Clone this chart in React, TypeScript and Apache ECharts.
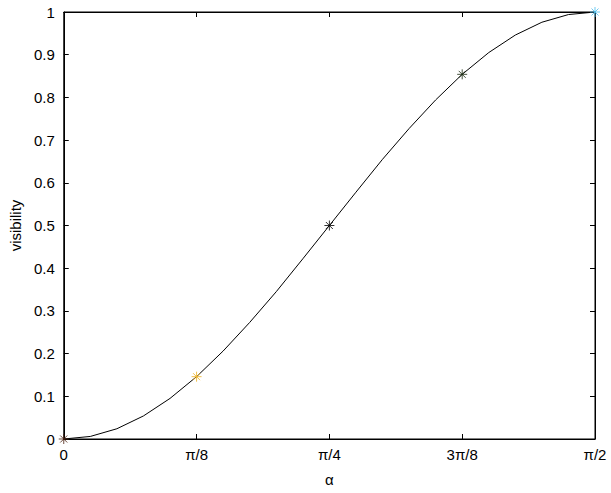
import React, { useEffect, useRef } from "react";
import * as echarts from "echarts";

// x positions in units of pi/8 (0..4), curve sampled every pi/40
const curveX = [0, 0.2, 0.4, 0.6, 0.8, 1.0, 1.2, 1.4, 1.6, 1.8, 2.0, 2.2, 2.4, 2.6, 2.8, 3.0, 3.2, 3.4, 3.6, 3.8, 4.0];
const curveY = [0, 0.006, 0.024, 0.054, 0.095, 0.146, 0.206, 0.273, 0.345, 0.422, 0.5, 0.578, 0.655, 0.727, 0.794, 0.854, 0.905, 0.946, 0.976, 0.994, 1.0];

const markerX = [0, 1, 2, 3, 4];
const markerY = [0, 0.146, 0.5, 0.854, 1.0];
const markerColors = ["#4a2010", "#EDB120", "#000000", "#1a2a10", "#4DBEEE"];

const xTickLabels = ["0", "π/8", "π/4", "3π/8", "π/2"];

const asterisk = "path://M5,0L5,10M0,5L10,5M1.5,1.5L8.5,8.5M1.5,8.5L8.5,1.5";

export default function App() {
  const ref = useRef<HTMLDivElement>(null);
  useEffect(() => {
    if (!ref.current) return;
    const chart = echarts.init(ref.current, null, { renderer: "svg" });
    const font = "'Liberation Sans', Arial, sans-serif";
    chart.setOption({
      animation: false,
      backgroundColor: "#ffffff",
      grid: { left: 62, right: 16, top: 12, bottom: 54, show: true, borderColor: "#000", borderWidth: 1 },
      xAxis: [
        {
          type: "value",
          min: 0,
          max: 4,
          interval: 1,
          name: "α",
          nameLocation: "middle",
          nameGap: 33,
          nameTextStyle: { color: "#000", fontSize: 15, fontFamily: font },
          axisLine: { show: true, onZero: false, lineStyle: { color: "#000", width: 1 } },
          axisTick: { show: true, inside: true, length: 5, lineStyle: { color: "#000" } },
          axisLabel: {
            color: "#000",
            fontSize: 15,
            fontFamily: font,
            margin: 8,
            formatter: (v: number) => xTickLabels[Math.round(v)] ?? "",
          },
          splitLine: { show: false },
        },
        {
          type: "value",
          position: "top",
          min: 0,
          max: 4,
          interval: 1,
          axisLine: { show: true, onZero: false, lineStyle: { color: "#000", width: 1 } },
          axisTick: { show: true, inside: true, length: 5, lineStyle: { color: "#000" } },
          axisLabel: { show: false },
          splitLine: { show: false },
        },
      ],
      yAxis: [
        {
          type: "value",
          min: 0,
          max: 1,
          interval: 0.1,
          name: "visibility",
          nameLocation: "middle",
          nameGap: 38,
          nameRotate: 90,
          nameTextStyle: { color: "#000", fontSize: 15, fontFamily: font },
          axisLine: { show: true, onZero: false, lineStyle: { color: "#000", width: 1 } },
          axisTick: { show: true, inside: true, length: 5, lineStyle: { color: "#000" } },
          axisLabel: {
            color: "#000",
            fontSize: 15,
            fontFamily: font,
            margin: 9,
            formatter: (v: number) => String(Math.round(v * 10) / 10),
          },
          splitLine: { show: false },
        },
        {
          type: "value",
          position: "right",
          min: 0,
          max: 1,
          interval: 0.1,
          axisLine: { show: true, onZero: false, lineStyle: { color: "#000", width: 1 } },
          axisTick: { show: true, inside: true, length: 5, lineStyle: { color: "#000" } },
          axisLabel: { show: false },
          splitLine: { show: false },
        },
      ],
      series: [
        {
          type: "line",
          data: curveX.map((x, i) => [x, curveY[i]]),
          showSymbol: false,
          symbol: "none",
          lineStyle: { color: "#000", width: 1 },
          z: 2,
        },
        {
          type: "scatter",
          data: markerX.map((x, i) => ({
            value: [x, markerY[i]],
            itemStyle: { color: "rgba(0,0,0,0)", borderColor: markerColors[i], borderWidth: 1 },
          })),
          symbol: asterisk,
          symbolSize: 10,
          z: 3,
        },
      ],
    });
    return () => chart.dispose();
  }, []);
  return (
    <div
      ref={ref}
      style={{ position: "fixed", left: 0, top: 0, width: 611, height: 493, background: "#fff" }}
    />
  );
}
